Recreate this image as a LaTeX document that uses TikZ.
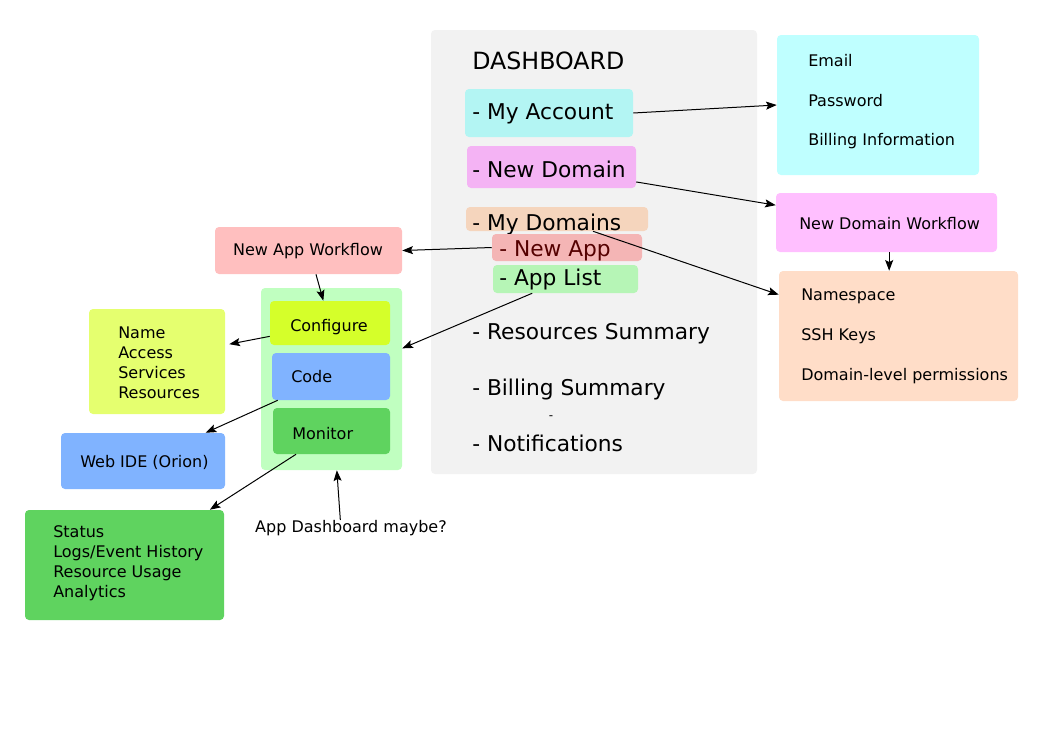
\documentclass[tikz,border=0pt]{standalone}
\usepackage{fontspec}
\setmainfont{DejaVu Sans}
\usetikzlibrary{fit,arrows.meta}

\definecolor{dashgray}{HTML}{F2F2F2}
\definecolor{acctcyan}{HTML}{B3F5F3}
\definecolor{acctbox}{HTML}{BFFFFF}
\definecolor{dompink}{HTML}{F4B3F4}
\definecolor{domwf}{HTML}{FFBFFF}
\definecolor{dompeach}{HTML}{F5D5BD}
\definecolor{nspeach}{HTML}{FFDDC8}
\definecolor{appred}{HTML}{F4B5B5}
\definecolor{appwf}{HTML}{FFBFBF}
\definecolor{applist}{HTML}{B6F5B6}
\definecolor{appcont}{HTML}{C0FFC0}
\definecolor{cfglime}{HTML}{D5FF2A}
\definecolor{namelime}{HTML}{E5FF6F}
\definecolor{codeblue}{HTML}{80B3FF}
\definecolor{mongreen}{HTML}{5FD35F}
\definecolor{darkred}{HTML}{550000}

\begin{document}
\begin{tikzpicture}[x=0.75pt, y=-0.75pt,
    box/.style={inner sep=0pt, rounded corners=3pt},
    big/.style={anchor=west, inner sep=0pt, yshift=-1.5pt, font=\fontsize{16.3}{19}\selectfont},
    txt/.style={anchor=west, inner sep=0pt, yshift=-0.75pt, align=left, font=\fontsize{12}{15}\selectfont},
    arr/.style={-{Stealth[length=8pt,width=6pt,inset=1.5pt]}, line width=0.75pt}]
  \useasboundingbox (0,0) rectangle (1052,744);
  % Dashboard panel
  \node[box, fill=dashgray, fit={(431,30) (757,474)}] (dash) {};
  \node[anchor=west, inner sep=0pt, yshift=-1pt, font=\fontsize{17.8}{20}\selectfont] (title) at (472,60) {DASHBOARD};
  % Dashboard entries
  \node[box, fill=acctcyan, fit={(465,89) (633,137)}] (myacct) {};
  \node[big] at (472,112) {- My Account};
  \node[box, fill=dompink, fit={(467,146) (636,188)}] (newdom) {};
  \node[big] at (472,167) {- New Domain};
  \node[box, fill=dompeach, fit={(466,207) (648,231)}] (mydoms) {};
  \node[big] at (472,222) {- My Domains};
  \node[box, fill=appred, fit={(492,234) (642,261)}] (newapp) {};
  \node[big, text=darkred] at (499,249) {- New App};
  \node[box, fill=applist, fit={(493,265) (638,293)}] (applist) {};
  \node[big] at (499,277) {- App List};
  \node[big] (ressum) at (472,332) {- Resources Summary};
  \node[big] (billsum) at (472,387) {- Billing Summary};
  \node[inner sep=0pt, font=\fontsize{9}{9}\selectfont] (stray) at (551,418) {-};
  \node[big] (notif) at (472,441) {- Notifications};
  % Account details
  \node[box, fill=acctbox, fit={(777,35) (979,175)}] (acct) {};
  \node[txt] at (808,60) {Email};
  \node[txt] at (808,100) {Password};
  \node[txt] at (808,140) {Billing Information};
  % Domain workflow and details
  \node[box, fill=domwf, fit={(776,193) (997,252)}] (ndwf) {};
  \node[txt] at (799,223) {New Domain Workflow};
  \node[box, fill=nspeach, fit={(779,271) (1018,401)}] (ns) {};
  \node[txt] at (801,295) {Namespace};
  \node[txt] at (801,335) {SSH Keys};
  \node[txt] at (801,375) {Domain-level permissions};
  % App workflow
  \node[box, fill=appwf, fit={(215,227) (402,274)}] (nawf) {};
  \node[txt, anchor=center] at (308,250) {New App Workflow};
  \node[box, fill=appcont, fit={(261,288) (402,470)}] (appc) {};
  \node[box, fill=cfglime, fit={(270,301) (390,345)}] (cfg) {};
  \node[txt] at (290,326) {Configure};
  \node[box, fill=codeblue, fit={(272,353) (390,400)}] (code) {};
  \node[txt] at (291,376) {Code};
  \node[box, fill=mongreen, fit={(273,408) (390,454)}] (mon) {};
  \node[txt] at (292,433) {Monitor};
  % App details
  \node[box, fill=namelime, fit={(89,309) (225,414)}] (cfgbox) {};
  \node[txt] at (118,362) {Name\\Access\\Services\\Resources};
  \node[box, fill=codeblue, fit={(61,433) (225,489)}] (webide) {};
  \node[txt] at (80,461) {Web IDE (Orion)};
  \node[box, fill=mongreen, fit={(25,510) (224,620)}] (status) {};
  \node[txt] at (53,562) {Status\\Logs/Event History\\Resource Usage\\Analytics};
  \node[txt, anchor=center] (appdash) at (351,527) {App Dashboard maybe?};
  % Connectors
  \draw[arr] (myacct.east) -- (acct.west);
  \draw[arr] (newdom.-10) -- ([yshift=13pt]ndwf.west);
  \draw[arr] ([xshift=27pt]mydoms.south) -- ([yshift=31pt]ns.west);
  \draw[arr] ([xshift=2pt]ndwf.south) -- ([xshift=2pt]ndwf.south |- ns.north);
  \draw[arr] (newapp.west) -- (nawf.east);
  \draw[arr] ([xshift=-25pt]applist.south) -- ([yshift=23pt]appc.east);
  \draw[arr] ([xshift=5.6pt]nawf.south) -- ([xshift=-5pt]cfg.north);
  \draw[arr] ([yshift=-10pt]cfg.west) -- ([xshift=3pt,yshift=13pt]cfgbox.east);
  \draw[arr] ([xshift=4.5pt]code.south west) -- ([xshift=47pt]webide.north);
  \draw[arr] ([xshift=-26.6pt]mon.south) -- ([xshift=64pt]status.north);
  \draw[arr] ([xshift=-8pt]appdash.north) -- ([xshift=4pt]appc.south);
\end{tikzpicture}
\end{document}
